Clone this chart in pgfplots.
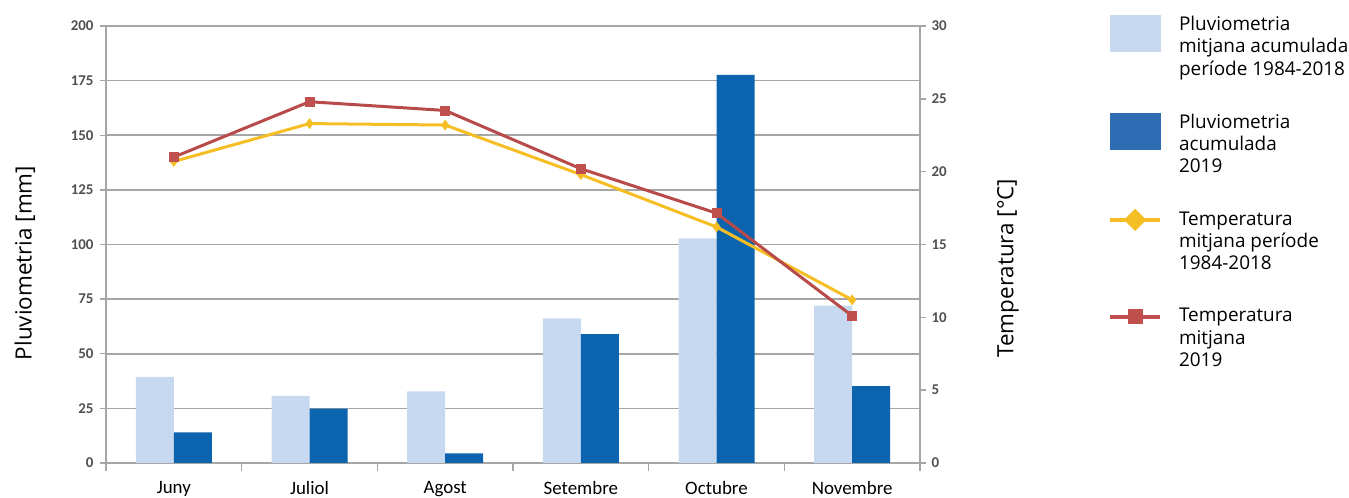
\documentclass[border=0pt]{standalone}
\usepackage{pgfplots}
\pgfplotsset{compat=1.18}
\usepackage{fontspec}
\setmainfont{Open Sans}
\newfontfamily\tickfont{Carlito}

\definecolor{lightbar}{HTML}{C6D9F0}
\definecolor{darkbar}{HTML}{0C63AE}
\definecolor{darkbarleg}{HTML}{2E6DB4}
\definecolor{tempyellow}{HTML}{F4BE24}
\definecolor{tempred}{HTML}{B94A4A}
\definecolor{tempredmark}{HTML}{C0504D}
\definecolor{gridgray}{HTML}{A6A6A6}
\definecolor{ticktext}{HTML}{505050}

\pgfplotsset{
  common/.style={
    at={(106bp,35bp)}, anchor=south west,
    width=814bp, height=437bp, scale only axis,
    xmin=-0.5, xmax=5.5,
    axis line style={gridgray, line width=1.6bp},
    tick style={gridgray, line width=1.4bp},
    tick align=outside,
    major tick length=6bp,
    /pgf/number format/assume math mode=true,
    yticklabel style={font=\tickfont\bfseries\fontsize{15}{15}\selectfont, text=ticktext},
  },
}

\begin{document}
\begin{tikzpicture}[x=1bp,y=1bp]
\useasboundingbox (0,0) rectangle (1349,498);

\begin{axis}[
  common,
  ymin=0, ymax=200, ytick={0,25,...,200},
  axis y line*=left, axis x line*=bottom,
  ymajorgrids, grid style={gridgray, line width=1.6bp},
  ybar=0pt, bar width=38bp,
  xtick={0,...,5},
  xticklabels={Juny,Juliol,Agost,Setembre,Octubre,Novembre},
  major x tick style={draw=none},
  minor xtick={-0.5,0.5,...,5.5},
  minor tick length=8bp,
  minor x tick style={gridgray, line width=1.4bp},
  xticklabel style={font=\tickfont\fontsize{19}{19}\selectfont, text=black, yshift=-9bp},
  yticklabel style={xshift=-3bp},
  ylabel={Pluviometria [mm]},
  every axis y label/.style={at={(axis description cs:-0.0995,0.4577)}, rotate=90, anchor=center,
    font=\fontsize{22.5}{22.5}\selectfont},
]
\addplot[fill=lightbar, draw=none] coordinates {(0,39.4)(1,30.7)(2,32.8)(3,66.2)(4,102.8)(5,72.0)};
\addplot[fill=darkbar, draw=none] coordinates {(0,14.0)(1,24.9)(2,4.4)(3,59.0)(4,177.6)(5,35.2)};
\end{axis}

\begin{axis}[
  common,
  ymin=0, ymax=30, ytick={0,5,...,30},
  axis y line*=right, axis x line=none,
  yticklabel style={xshift=2bp},
  ylabel={Temperatura [°C]},
  every axis y label/.style={at={(axis description cs:1.108,0.446)}, rotate=90, anchor=center,
    font=\fontsize{22.5}{22.5}\selectfont},
  legend style={at={(axis description cs:1.231,1.0275)}, anchor=north west,
    draw=none, inner sep=0pt, outer sep=0pt, row sep=33bp,
    font=\fontsize{19}{22.5}\selectfont,
    cells={align=left, anchor=base west},
    /tikz/every odd column/.append style={column sep=15bp}},
]
\addlegendimage{legend image code/.code={\fill[lightbar] (0,24bp) rectangle (50bp,60bp);}}
\addlegendimage{legend image code/.code={\fill[darkbarleg] (0,24bp) rectangle (50bp,60bp);}}
\addplot[tempyellow, line width=3bp, mark=diamond*, mark size=5bp,
  mark options={fill=tempyellow, draw=tempyellow, line width=0.5bp},
  legend image code/.code={\draw[tempyellow, line width=4bp] (0,50bp) -- (50bp,50bp);
    \fill[tempyellow] (25bp,41bp) -- (34bp,50bp) -- (25bp,59bp) -- (16bp,50bp) -- cycle;}]
  coordinates {(0,20.7)(1,23.3)(2,23.2)(3,19.8)(4,16.2)(5,11.2)};
\addplot[tempred, line width=3bp, mark=square*, mark size=4.5bp,
  mark options={fill=tempredmark, draw=tempredmark, line width=0.5bp},
  legend image code/.code={\draw[tempredmark, line width=4bp] (0,50bp) -- (50bp,50bp);
    \fill[tempredmark] (19bp,44bp) rectangle (31bp,56bp);}]
  coordinates {(0,21.0)(1,24.8)(2,24.2)(3,20.2)(4,17.15)(5,10.1)};
\legend{Pluviometria\\mitjana acumulada\\període 1984-2018,
  Pluviometria\\acumulada\\2019,
  Temperatura\\mitjana període\\1984-2018,
  Temperatura\\mitjana\\2019}
\end{axis}
\end{tikzpicture}
\end{document}
